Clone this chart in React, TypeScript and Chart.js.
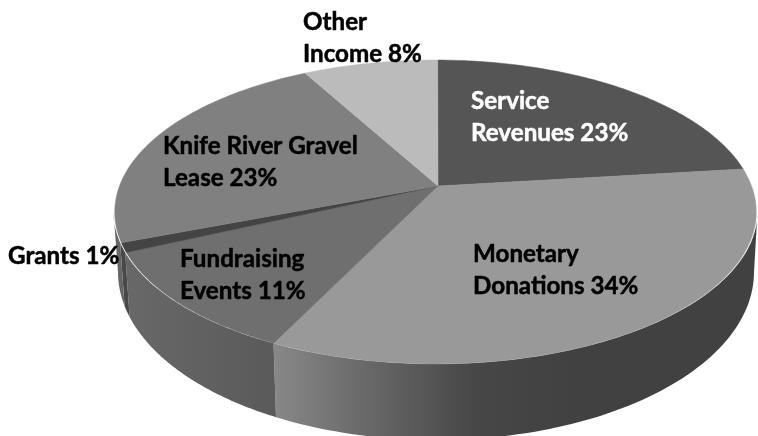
import React, { useEffect, useRef } from "react";
import { Chart, registerables } from "chart.js";

Chart.register(...registerables);

const categories = ["Service Revenues", "Monetary Donations", "Fundraising Events", "Grants", "Knife River Gravel Lease", "Other Income"];
const shares = [23, 34, 11, 1, 23, 8];
const labelLines = [
  ["Service", "Revenues 23%"],
  ["Monetary", "Donations 34%"],
  ["Fundraising", "Events 11%"],
  ["Grants 1%"],
  ["Knife River Gravel", "Lease 23%"],
  ["Other", "Income 8%"],
];
const labelColors = ["#ffffff", "#000000", "#000000", "#000000", "#000000", "#000000"];
const labelAnchors = [[471, 109], [473, 262], [180, 267], [8, 264], [163, 154], [303, 30]];
const topColors = ["#555555", "#999999", "#6f6f6f", "#444444", "#808080", "#bbbbbb"];
const sideStops: (string[] | null)[] = [
  null,
  ["#888888", "#666666", "#474747", "#414141"],
  ["#686868", "#5a5a5a"],
  ["#484848", "#484848"],
  ["#666666", "#666666"],
  null,
];

const pieCenter = { x: 438, y: 186 };
const rimCenterX = 435.5;
const rimTilt = 0.008;
const persp = 0.171;
const depthX = 316;
const depthY = 147.5;
const topEllipse = { x: 435.5, y: 212, rx: 322, ry: 152 };
const bottomEllipse = { x: 436, y: 272, rx: 318, ry: 168 };

function rim(theta: number) {
  const u = Math.cos(theta + rimTilt);
  const v = Math.sin(theta + rimTilt);
  const k = 1 - persp * v;
  return { x: rimCenterX + (u * depthX) / k, y: pieCenter.y + (v * depthY) / k };
}

function ellipseParam(p: { x: number; y: number }) {
  let a = Math.atan2((p.y - topEllipse.y) / topEllipse.ry, (p.x - topEllipse.x) / topEllipse.rx);
  if (a < -Math.PI / 2) a += Math.PI * 2;
  return a;
}

const pie3d = {
  id: "pie3d",
  afterDatasetsDraw(chart: any) {
    const ctx: CanvasRenderingContext2D = chart.ctx;
    const arcs = chart.getDatasetMeta(0).data;
    ctx.save();
    // side wall
    arcs.forEach((arc: any, i: number) => {
      const stops = sideStops[i];
      if (!stops) return;
      const a0 = Math.max(0, Math.min(Math.PI, ellipseParam(rim(arc.startAngle))));
      const a1 = Math.max(0, Math.min(Math.PI, ellipseParam(rim(arc.endAngle))));
      if (a1 <= a0) return;
      const pts: [number, number][] = [];
      const back: [number, number][] = [];
      let minX = Infinity;
      let maxX = -Infinity;
      for (let s = 0; s <= 80; s++) {
        const a = a0 + ((a1 - a0) * s) / 80;
        const px = topEllipse.x + topEllipse.rx * Math.cos(a);
        const py = topEllipse.y + topEllipse.ry * Math.sin(a);
        const qx = bottomEllipse.x + bottomEllipse.rx * Math.cos(a);
        const qy = bottomEllipse.y + bottomEllipse.ry * Math.sin(a);
        pts.push([px, py]);
        back.unshift([qx, qy]);
        minX = Math.min(minX, px, qx);
        maxX = Math.max(maxX, px, qx);
      }
      const g = ctx.createLinearGradient(minX, 0, i === 1 ? minX + 300 : maxX, 0);
      stops.forEach((c, k) => g.addColorStop(k / (stops.length - 1), c));
      ctx.fillStyle = g;
      ctx.beginPath();
      [...pts, ...back].forEach(([x, y], k) => (k ? ctx.lineTo(x, y) : ctx.moveTo(x, y)));
      ctx.closePath();
      ctx.fill();
    });
    // top face
    arcs.forEach((arc: any, i: number) => {
      ctx.fillStyle = topColors[i];
      ctx.strokeStyle = topColors[i];
      ctx.lineWidth = 0.5;
      ctx.beginPath();
      ctx.moveTo(pieCenter.x, pieCenter.y);
      for (let s = 0; s <= 80; s++) {
        const p = rim(arc.startAngle + ((arc.endAngle - arc.startAngle) * s) / 80);
        ctx.lineTo(p.x, p.y);
      }
      ctx.closePath();
      ctx.fill();
      ctx.stroke();
    });
    // labels
    ctx.font = 'bold 24.2px Lato, "Open Sans", sans-serif';
    ctx.textAlign = "left";
    ctx.textBaseline = "alphabetic";
    ctx.lineWidth = 0.5;
    ctx.lineJoin = "round";
    labelLines.forEach((lines, i) => {
      ctx.fillStyle = labelColors[i];
      ctx.strokeStyle = labelColors[i];
      lines.forEach((line, k) => {
        const x = labelAnchors[i][0];
        const y = labelAnchors[i][1] + k * 32;
        ctx.fillText(line, x, y);
        ctx.strokeText(line, x, y);
      });
    });
    ctx.restore();
  },
};

export default function App() {
  const ref = useRef<HTMLCanvasElement>(null);
  useEffect(() => {
    const chart = new Chart(ref.current!, {
      type: "pie",
      data: {
        labels: categories,
        datasets: [{ data: shares, backgroundColor: "rgba(0,0,0,0)", borderWidth: 0 }],
      },
      options: {
        animation: false,
        responsive: false,
        plugins: { legend: { display: false }, tooltip: { enabled: false } },
      },
      plugins: [pie3d],
    } as any);
    return () => chart.destroy();
  }, []);
  return (
    <canvas
      ref={ref}
      width={758}
      height={436}
      style={{ position: "fixed", left: 0, top: 0, display: "block", width: 758, height: 436, filter: "blur(0.4px)" }}
    />
  );
}
